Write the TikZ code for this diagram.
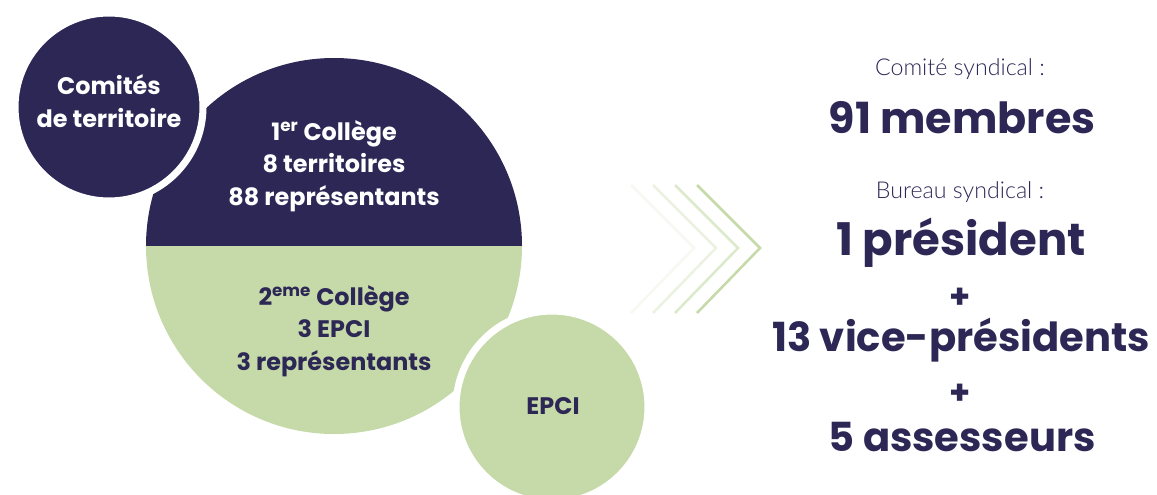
\documentclass[tikz,border=0pt]{standalone}
\usepackage{fontspec}
\setmainfont{Poppins}
\newfontfamily\lightfont{Lato Light}
\definecolor{navy}{HTML}{2D2756}
\definecolor{sage}{HTML}{C5DAA8}
\tikzset{
  ring/.style={draw=white,line width=5pt},
  bigtxt/.style={text=navy,font=\bfseries\fontsize{30.5}{36}\selectfont},
  plustxt/.style={text=navy,font=\bfseries\fontsize{24}{24}\selectfont},
  smalltxt/.style={text=navy,font=\lightfont\fontsize{16.5}{19}\selectfont},
  disctxt/.style={align=center,font=\bfseries\fontsize{17}{23}\selectfont},
  chev/.style={line width=1.8pt}
}
\begin{document}
\begin{tikzpicture}[x=0.025cm,y=-0.025cm]
\useasboundingbox (0,0) rectangle (1157,494);
% big circle, two halves
\fill[navy] (146,246) arc[start angle=180,end angle=360,radius=188] -- cycle;
\fill[sage] (146,246) arc[start angle=180,end angle=0,radius=188] -- cycle;
% small circles with white rim
\filldraw[fill=navy,ring] (109,107) circle[radius=94];
\filldraw[fill=sage,ring] (552,407) circle[radius=96];

\node[disctxt,text=white] (comites) at (109,101) {Comités\\de territoire};
\node[disctxt,text=white] (college1) at (334,166) {1\textsuperscript{er} Collège\\8 territoires\\88 représentants};
\node[disctxt,text=navy] (college2) at (334,331) {2\textsuperscript{eme} Collège\\3 EPCI\\3 représentants};
\node[disctxt,text=navy] (epci) at (553,406) {EPCI};

% chevrons
\foreach \dx/\op in {0/15,22/35,44/60,66/100}
  \draw[chev,sage!\op] (631+\dx,185) -- (694+\dx,248) -- (631+\dx,313);

% right column
\node[smalltxt] (comite) at (960,69) {Comité syndical :};
\node[bigtxt] (membres) at (962,118) {91 membres};
\node[smalltxt] (bureau) at (960,192) {Bureau syndical :};
\node[bigtxt,font=\bfseries\fontsize{32}{36}\selectfont] (president) at (961,243) {1 président};
\node[plustxt] (plus1) at (960,298) {+};
\node[bigtxt,font=\bfseries\fontsize{28.5}{36}\selectfont] (vice) at (961,340) {13 vice-présidents};
\node[plustxt] (plus2) at (960,394) {+};
\node[bigtxt,font=\bfseries\fontsize{28.5}{36}\selectfont] (assesseurs) at (962,437) {5 assesseurs};
\end{tikzpicture}
\end{document}
